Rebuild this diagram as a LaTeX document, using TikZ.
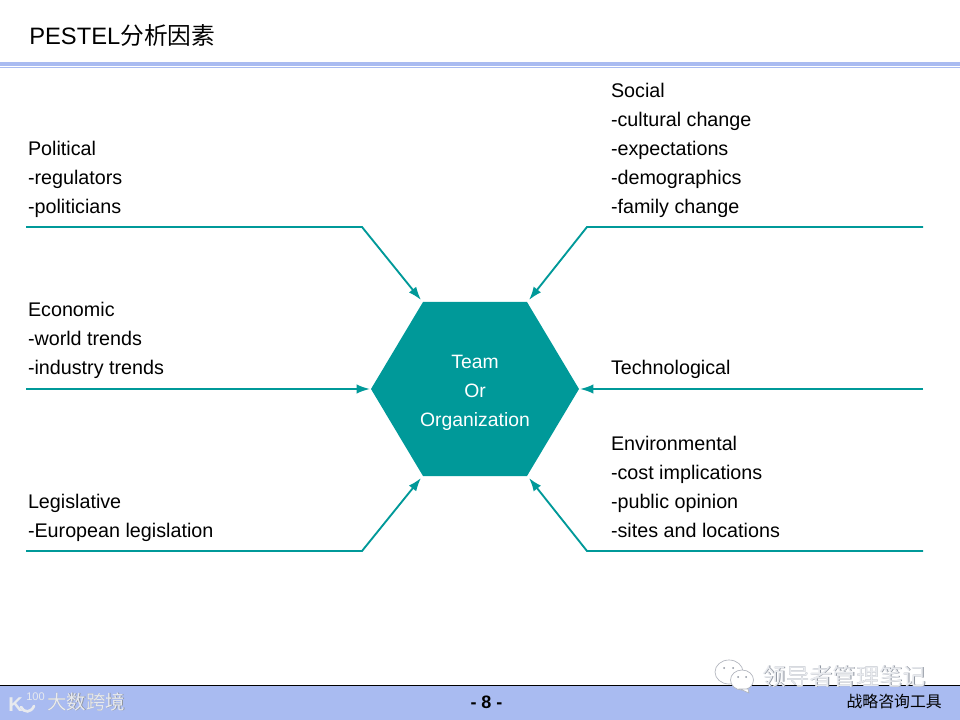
\documentclass[tikz,border=0pt]{standalone}
\usepackage{fontspec}
\setmainfont{Liberation Sans}
\newfontfamily\cjk{Noto Sans CJK SC}
\definecolor{teal}{HTML}{009999}
\definecolor{band}{HTML}{A9BBF1}
\definecolor{wm}{HTML}{E8EAEE}
\definecolor{wmd}{HTML}{8F95A0}
\usetikzlibrary{arrows.meta}
\tikzset{
  x=0.75pt,y=-0.75pt,
  body/.style={anchor=north west,inner sep=0pt,outer sep=0pt,align=left,font=\fontsize{14.8}{21.75}\selectfont,text=black},
  conn/.style={draw=teal,line width=1.4pt},
  arr/.style={conn,-{Latex[length=10pt,width=7pt]}},
  hexa/.style={fill=teal,draw=none},
  hextext/.style={align=center,inner sep=0pt,text=white,font=\fontsize{14.5}{21.75}\selectfont},
  bubble/.style={fill=white,draw=wmd!70,line width=0.5pt},
  eye/.style={fill=wmd},
}
\begin{document}
\begin{tikzpicture}
\useasboundingbox (0,0) rectangle (960,720);
\fill[white] (0,0) rectangle (960,720);
% title
\node[anchor=base west,inner sep=0pt,font=\fontsize{17.8}{20}\selectfont] (title) at (29,44.5) {PESTEL{\cjk 分析因素}};
\fill[band] (0,62) rectangle (960,66);
\fill[band] (0,67) rectangle (960,68);
% footer
\fill[band] (0,685) rectangle (960,720);
\draw[black,line width=0.8pt] (0,685.5) -- (960,685.5);
\node[inner sep=0pt,font=\bfseries\fontsize{13.5}{14}\selectfont] (page) at (486.5,702) {- 8 -};
\node[anchor=base east,inner sep=0pt,font=\cjk\fontsize{11.9}{14}\selectfont] (tool) at (942,707) {战略咨询工具};
% hexagon
\coordinate (hl) at (371,389);
\coordinate (htl) at (423,302);
\coordinate (htr) at (527,302);
\coordinate (hr) at (579,389);
\coordinate (hbr) at (527,476);
\coordinate (hbl) at (423,476);
\fill[hexa] (hl) -- (htl) -- (htr) -- (hr) -- (hbr) -- (hbl) -- cycle;
\node[hextext] (core) at (475,393) {Team\\Or\\Organization};
% connector points
\coordinate (a1) at (26,227); \coordinate (a2) at (362,227); \coordinate (a3) at (421,300);
\coordinate (b1) at (26,389); \coordinate (b3) at (370,389);
\coordinate (c1) at (26,551); \coordinate (c2) at (362,551); \coordinate (c3) at (421,478);
\coordinate (d1) at (923,227); \coordinate (d2) at (587,227); \coordinate (d3) at (529,300);
\coordinate (e1) at (923,389); \coordinate (e3) at (580,389);
\coordinate (f1) at (923,551); \coordinate (f2) at (587,551); \coordinate (f3) at (529,478);
\draw[arr] (a1) -- (a2) -- (a3);
\draw[arr] (b1) -- (b3);
\draw[arr] (c1) -- (c2) -- (c3);
\draw[arr] (d1) -- (d2) -- (d3);
\draw[arr] (e1) -- (e3);
\draw[arr] (f1) -- (f2) -- (f3);
% labels
\node[body] (pol) at (28,141) {Political\\-regulators\\-politicians};
\node[body] (eco) at (28,302) {Economic\\-world trends\\-industry trends};
\node[body] (leg) at (28,494) {Legislative\\-European legislation};
\node[body] (soc) at (611,83) {Social\\-cultural change\\-expectations\\-demographics\\-family change};
\node[body] (tec) at (611,360) {Technological};
\node[body] (env) at (611,436) {Environmental\\-cost implications\\-public opinion\\-sites and locations};
% watermarks
\node[anchor=base west,inner sep=0pt,font=\cjk\fontsize{17.5}{20}\selectfont,text=wmd] (wm1s) at (763.3,685.8) {领导者管理笔记};
\node[anchor=base west,inner sep=0pt,font=\cjk\fontsize{17.5}{20}\selectfont,text=wm] (wm1) at (762.5,685) {领导者管理笔记};
\fill[bubble] (729,672) ellipse (14 and 12);
\fill[eye] (724,668) circle (1); \fill[eye] (733,668) circle (1);
\fill[bubble] (742,680) ellipse (11.5 and 10);
\fill[bubble] (740,689) -- (748,689) -- (749,693) -- cycle;
\fill[eye] (738,677) circle (1); \fill[eye] (746,677) circle (1);
\node[anchor=base west,inner sep=0pt,font=\cjk\fontsize{14.6}{18}\selectfont,text=wmd] (wm2s) at (47.6,709.6) {大数跨境};
\node[anchor=base west,inner sep=0pt,font=\cjk\fontsize{14.6}{18}\selectfont,text=wm] (wm2) at (47,709) {大数跨境};
\node[anchor=base west,inner sep=0pt,font=\bfseries\fontsize{15}{18}\selectfont,text=wm] (logok) at (8,711) {K};
\draw[wm,line width=2pt,line cap=round] (21,707) .. controls (24,713) and (31,713) .. (34,706);
\node[anchor=base west,inner sep=0pt,font=\fontsize{8.3}{10}\selectfont,text=wm] (logon) at (26,700) {100};
\end{tikzpicture}
\end{document}
